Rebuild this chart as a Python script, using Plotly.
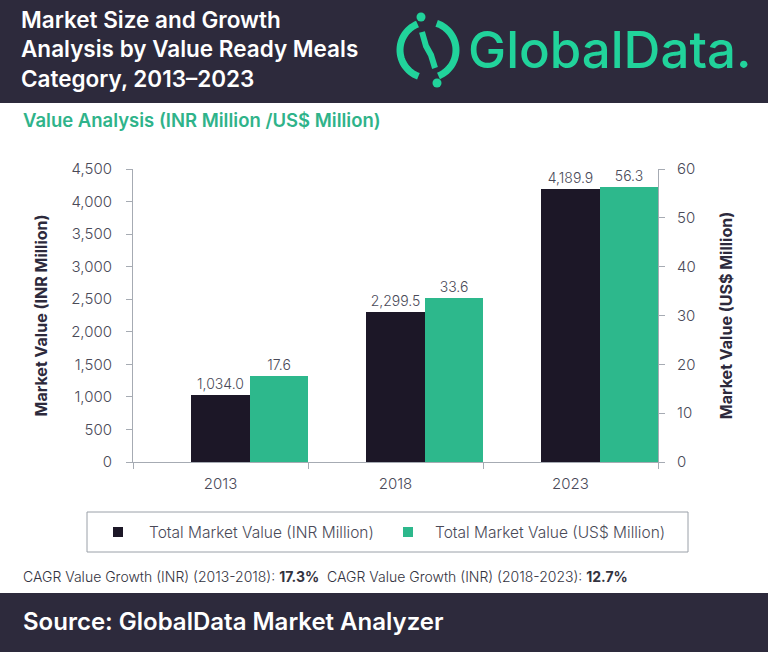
import numpy as np
import plotly.graph_objects as go

# ---- data ----
years = ["2013", "2018", "2023"]
inr_values = [1034.0, 2299.5, 4189.9]
usd_values = [17.6, 33.6, 56.3]
inr_ticks = [0, 500, 1000, 1500, 2000, 2500, 3000, 3500, 4000, 4500]
usd_ticks = [0, 10, 20, 30, 40, 50, 60]
series_names = ["Total Market Value (INR Million)", "Total Market Value (US$ Million)"]
cagr_labels = ["CAGR Value Growth (INR) (2013-2018): ", "CAGR Value Growth (INR) (2018-2023): "]
cagr_values = ["17.3%", "12.7%"]

W, H = 768, 652
L, R, T, B = 133, 110, 169, 190
PW, PH = W - L - R, H - T - B

def px(x):
    return (x - L) / PW

def py(y):
    return (H - B - y) / PH

DARK_BG = "#2d2a3c"
BAR_DARK = "#1c1727"
BAR_GREEN = "#2db88c"
LOGO_GREEN = "#21d39b"
AX = "#a6abb3"
TXT = "#4a4a58"
FONT = "Inter"

fig = go.Figure()
fig.add_trace(go.Bar(
    x=years, y=inr_values, name=series_names[0], marker_color=BAR_DARK,
    marker_line_width=0, offset=-1/6, width=1/3,
    texttemplate="%{y:,.1f}", textposition="outside", cliponaxis=False,
    textfont=dict(size=14, color=TXT, family=FONT, weight=300),
))
fig.add_trace(go.Bar(
    x=years, y=usd_values, name=series_names[1], marker_color=BAR_GREEN,
    marker_line_width=0, offset=1/6, width=1/3, yaxis="y2",
    texttemplate="%{y:.1f}", textposition="outside", cliponaxis=False,
    textfont=dict(size=14, color=TXT, family=FONT, weight=300),
))

shapes = []
# header and footer bands
shapes.append(dict(type="rect", xref="paper", yref="paper", x0=px(-5), x1=px(W + 5),
                   y0=py(103), y1=py(-5), fillcolor=DARK_BG, line_width=0, layer="below"))
shapes.append(dict(type="rect", xref="paper", yref="paper", x0=px(-5), x1=px(W + 5),
                   y0=py(H + 5), y1=py(593), fillcolor=DARK_BG, line_width=0, layer="below"))
# logo icon (ring broken into two arcs, dots and slash)
cx, cy, r = 428, 50, 28
def arc(a0, a1, n=30):
    a = np.radians(np.linspace(a0, a1, n))
    pts = [(px(cx + r * np.cos(t)), py(cy - r * np.sin(t))) for t in a]
    return "M " + " L ".join(f"{x:.5f},{y:.5f}" for x, y in pts)
for a0, a1 in [(112, 250), (-68, 72)]:
    shapes.append(dict(type="path", xref="paper", yref="paper", path=arc(a0, a1),
                       line=dict(color=LOGO_GREEN, width=7)))
for dx, dy in [(421, 17), (437, 83)]:
    shapes.append(dict(type="circle", xref="paper", yref="paper",
                       x0=px(dx - 4.5), x1=px(dx + 4.5), y0=py(dy + 4.5), y1=py(dy - 4.5),
                       fillcolor=LOGO_GREEN, line_width=0))
shapes.append(dict(type="path", xref="paper", yref="paper",
                   path=f"M {px(422):.5f},{py(32):.5f} L {px(426):.5f},{py(46):.5f} L {px(431):.5f},{py(55):.5f} L {px(435):.5f},{py(68):.5f}",
                   line=dict(color=LOGO_GREEN, width=6)))

# legend box drawn in page coordinates
shapes.append(dict(type="rect", xref="paper", yref="paper", x0=px(87), x1=px(688),
                   y0=py(552), y1=py(512), line=dict(color="#9aa0a8", width=1), fillcolor="white"))
legend_colors = [BAR_DARK, BAR_GREEN]
legend_sq_x = [118, 408]
legend_txt_x = [147, 433]
annotations = []
for name, col, sx, tx in zip(series_names, legend_colors, legend_sq_x, legend_txt_x):
    shapes.append(dict(type="rect", xref="paper", yref="paper", x0=px(sx - 5), x1=px(sx + 5),
                       y0=py(537), y1=py(527), fillcolor=col, line_width=0))
    annotations.append(dict(text=name, xref="paper", yref="paper", x=px(tx), y=py(532),
                            xanchor="left", yanchor="middle", showarrow=False,
                            font=dict(size=15.5, color=TXT, family=FONT, weight=300)))

annotations += [
    dict(text="GlobalData.", xref="paper", yref="paper", x=px(466), y=py(50),
         xanchor="left", yanchor="middle", showarrow=False,
         font=dict(size=51, color=LOGO_GREEN, family=FONT, weight=500)),
    dict(text="Value Analysis (INR Million /US$ Million)", xref="paper", yref="paper",
         x=px(21), y=py(120), xanchor="left", yanchor="middle", showarrow=False,
         font=dict(size=18.5, color="#2fb38a", family=FONT, weight=600)),
    dict(text=f"{cagr_labels[0]}<b>{cagr_values[0]}</b>  {cagr_labels[1]}<b>{cagr_values[1]}</b>",
         xref="paper", yref="paper", x=px(21), y=py(576), xanchor="left", yanchor="middle",
         showarrow=False, font=dict(size=14, color="#333340", family=FONT, weight=300)),
    dict(text="Source: GlobalData Market Analyzer", xref="paper", yref="paper",
         x=px(21), y=py(621), xanchor="left", yanchor="middle", showarrow=False,
         font=dict(size=24, color="white", family=FONT, weight=600)),
]

fig.update_layout(
    width=W, height=H,
    margin=dict(l=L, r=R, t=T, b=B, pad=0),
    paper_bgcolor="white", plot_bgcolor="white",
    font=dict(family=FONT, color=TXT),
    title=dict(text="Market Size and Growth<br>Analysis by Value Ready Meals<br>Category, 2013\u20132023",
               xref="container", yref="container", x=21 / W, y=1 - 28 / H,
               xanchor="left", yanchor="top",
               font=dict(size=22.5, color="white", family=FONT, weight=600)),
    bargap=0,
    showlegend=False,
    xaxis=dict(type="category", categoryorder="array", categoryarray=years, range=[-0.5, 2.5],
               showline=True, linecolor=AX, linewidth=1, ticks="outside", tickson="boundaries",
               ticklen=6, tickcolor=AX, showgrid=False, ticklabelstandoff=8,
               tickfont=dict(size=15, color=TXT, family=FONT, weight=300)),
    yaxis=dict(range=[0, 4500], tickvals=inr_ticks, tickformat=",", showline=True, linecolor=AX,
               ticks="outside", ticklen=6, tickcolor=AX, showgrid=False, zeroline=False,
               ticklabelstandoff=11,
               tickfont=dict(size=15, color=TXT, family=FONT, weight=300),
               title=dict(text="Market Value (INR Million)", standoff=19,
                          font=dict(size=16, color="#2d2a3c", family=FONT, weight=700))),
    yaxis2=dict(range=[0, 60], tickvals=usd_ticks, overlaying="y", side="right", showline=True,
                linecolor=AX, ticks="outside", ticklen=6, tickcolor=AX, showgrid=False, zeroline=False,
                ticklabelstandoff=9,
                tickfont=dict(size=15, color=TXT, family=FONT, weight=300),
                title=dict(text="Market Value (US$ Million)", standoff=26,
                           font=dict(size=16, color="#2d2a3c", family=FONT, weight=700))),
    shapes=shapes,
    annotations=annotations,
)

fig.write_html("out.html", config={"displayModeBar": False},
               post_script="document.body.style.margin='0px';")
